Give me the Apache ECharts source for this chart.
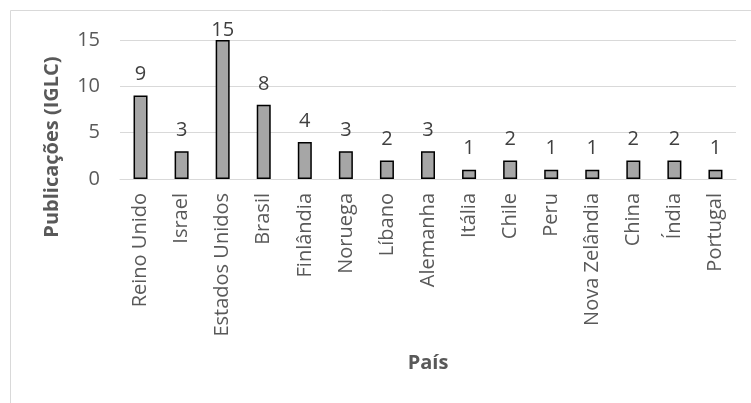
<!DOCTYPE html>
<html>
<head>
<meta charset="utf-8">
<script src="https://cdn.jsdelivr.net/npm/echarts@6/dist/echarts.min.js"></script>
<style>
  html, body { margin: 0; padding: 0; background: #fff; }
  #mychart { width: 751px; height: 403px; }
</style>
</head>
<body>
<div id="mychart"></div>
<script>
// dados
var paises = ['Reino Unido', 'Israel', 'Estados Unidos', 'Brasil', 'Finlândia', 'Noruega', 'Líbano',
  'Alemanha', 'Itália', 'Chile', 'Peru', 'Nova Zelândia', 'China', 'Índia', 'Portugal'];
var publicacoes = [9, 3, 15, 8, 4, 3, 2, 3, 1, 2, 1, 1, 2, 2, 1];
var yTicks = [0, 5, 10, 15];

var fonte = '"Open Sans", sans-serif';
var cinza = '#595959';

var myChart = echarts.init(document.getElementById('mychart'));
var maxVal = Math.max.apply(null, publicacoes);

var option = {
  backgroundColor: '#fff',
  animation: false,
  graphic: [{
    type: 'rect',
    shape: { x: 10.5, y: 10.5, width: 800, height: 500 },
    style: { fill: 'none', stroke: '#d9d9d9', lineWidth: 1 },
    silent: true
  }],
  grid: { left: 120, right: 15, top: 40, bottom: 224, containLabel: false },
  xAxis: {
    type: 'category',
    data: paises,
    name: 'País',
    nameLocation: 'middle',
    nameGap: 174,
    nameTextStyle: { fontFamily: fonte, fontWeight: 'bold', fontSize: 20, color: cinza },
    axisLine: { lineStyle: { color: '#d9d9d9', width: 1 } },
    axisTick: { show: false },
    axisLabel: { rotate: 90, interval: 0, margin: 14, fontFamily: fonte, fontSize: 20, color: cinza }
  },
  yAxis: {
    type: 'value',
    min: yTicks[0],
    max: yTicks[yTicks.length - 1],
    interval: 5,
    name: 'Publicações (IGLC)',
    nameLocation: 'middle',
    nameGap: 58,
    nameTextStyle: { fontFamily: fonte, fontWeight: 'bold', fontSize: 20, color: cinza, padding: [0, 75, 0, 0] },
    axisLine: { show: false },
    axisTick: { show: false },
    axisLabel: { margin: 20, fontFamily: fonte, fontSize: 20, color: cinza },
    splitLine: { lineStyle: { color: '#d9d9d9', width: 1 } }
  },
  series: [{
    type: 'bar',
    barWidth: 14,
    data: publicacoes.map(function (v) {
      // rótulo do maior valor fica colado na barra (como no Excel)
      return v === maxVal ? { value: v, label: { distance: 0 } } : v;
    }),
    itemStyle: { color: '#a6a6a6', borderColor: '#000', borderWidth: 1.5 },
    label: { show: true, position: 'top', distance: 11, fontFamily: fonte, fontSize: 20, color: '#404040' }
  }]
};
myChart.setOption(option);
</script>
</body>
</html>
